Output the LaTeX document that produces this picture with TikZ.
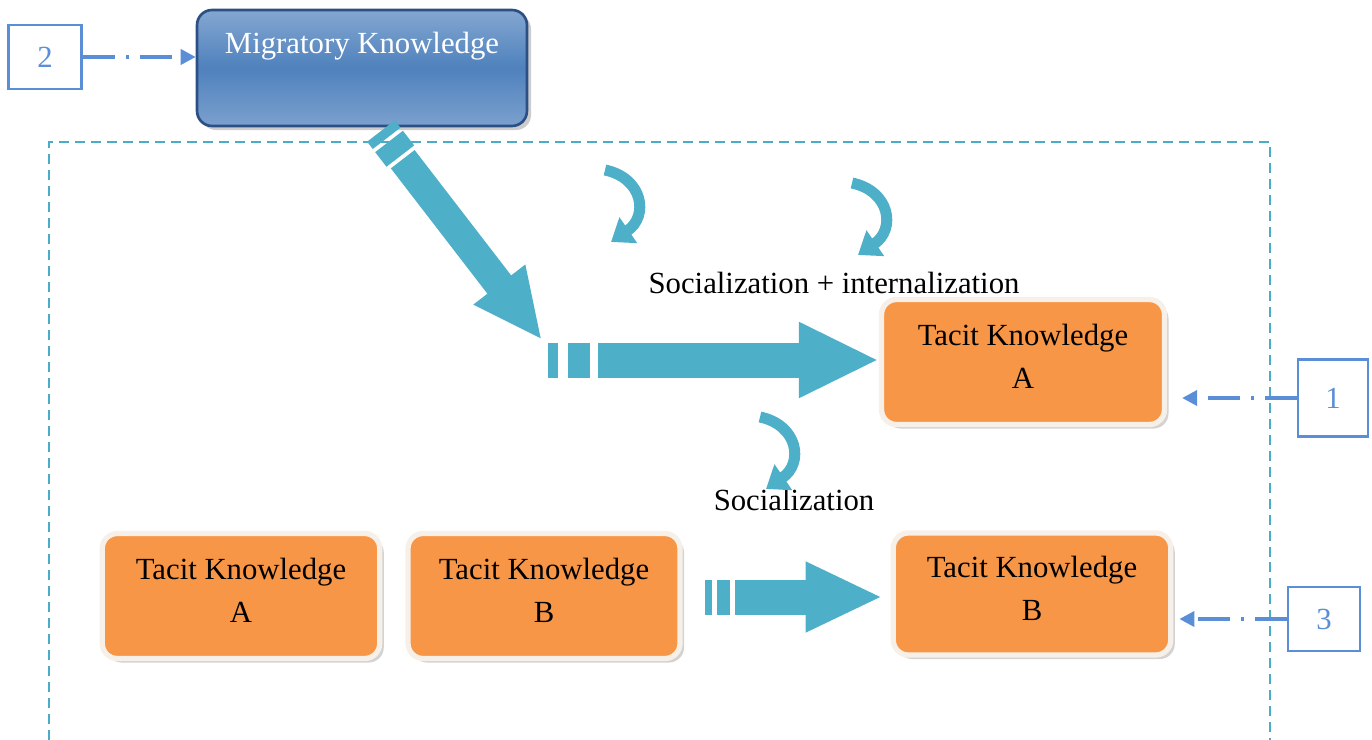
\documentclass[tikz,border=0pt]{standalone}
\usepackage{fontspec}
\setmainfont{Liberation Serif}
\usetikzlibrary{arrows.meta,shadows,calc}

\definecolor{tacitorange}{HTML}{F79646}
\definecolor{migblue}{HTML}{4F81BD}
\definecolor{migedge}{HTML}{2C4F85}
\definecolor{arrowteal}{HTML}{4DAFC8}
\definecolor{frameteal}{HTML}{4BACC6}
\definecolor{numblue}{HTML}{5A8ED6}
\newcommand\diagfont{\fontsize{17.5}{24.5}\selectfont}

\tikzset{
  pics/curl/.style={code={
    \draw[curlarrow] (0,0) .. controls (38,8) and (44,46) .. (6,72);
  }}
}

\begin{document}
\begin{tikzpicture}[x=0.02cm,y=-0.02cm,
    tacit/.style={rounded corners=0.3cm, fill=tacitorange, draw=white!88!brown,
      line width=3pt, drop shadow={opacity=0.35}, minimum width=5.55cm,
      minimum height=2.5cm,
      label={[font=\diagfont, align=center, yshift=0.12cm]center:#1}},
    numbox/.style={draw=numblue, line width=1.2pt, fill=white, text=numblue,
      minimum width=1.44cm, minimum height=1.32cm, font=\diagfont},
    dashdot/.style={draw=numblue, line width=2pt,
      dash pattern=on 0.64cm off 0.22cm on 0.06cm off 0.22cm,
      -{Triangle[width=0.3cm,length=0.3cm]}},
    bigarrow/.style={draw=arrowteal, line width=0.7cm,
      -{Triangle[width=1.4cm,length=1.6cm]}},
    stripe/.style={draw=arrowteal, line width=0.7cm},
    curlarrow/.style={draw=arrowteal, line width=0.22cm,
      -{Triangle[width=0.6cm,length=0.42cm]}},
    lbl/.style={font=\diagfont}]

  \useasboundingbox (0,0) rectangle (1372,740);

  % frame
  \draw[frameteal, line width=1.2pt, dash pattern=on 0.2cm off 0.12cm]
    (49,740) -- (49,142) -- (1270,142) -- (1270,740);

  % migratory knowledge
  \node[rounded corners=0.3cm, draw=migedge, line width=1.5pt,
    top color=migblue!70!white, bottom color=migblue!75!white, middle color=migblue,
    drop shadow={opacity=0.4}, minimum width=6.6cm, minimum height=2.32cm]
    (mig) at (362,68) {};
  \node[lbl, text=white] (migtext) at (362,46) {Migratory Knowledge};

  % tacit knowledge boxes
  \node[tacit={Tacit Knowledge\\A}, minimum width=5.66cm] (tacA) at (1023,362) {};
  \node[tacit={Tacit Knowledge\\A}] (lowA) at (241,596) {};
  \node[tacit={Tacit Knowledge\\B}, minimum width=5.44cm] (lowB) at (544,596) {};
  \node[tacit={Tacit Knowledge\\B}, minimum height=2.44cm] (tacB) at (1032,594) {};

  % number boxes
  \node[numbox, minimum width=1.46cm, minimum height=1.28cm] (n2) at (45,57) {2};
  \node[numbox, minimum width=1.4cm, minimum height=1.54cm] (n1) at (1333,398) {1};
  \node[numbox, minimum height=1.28cm] (n3) at (1324,619) {3};

  \draw[dashdot] (n2) -- (n2 -| mig.west);
  \draw[dashdot, shorten >=0.3cm] (n1) -- (n1 -| tacA.east);
  \draw[dashdot, shorten >=0.12cm] (n3) -- (n3 -| tacB.east);

  % labels
  \node[lbl] (socint) at (834,283) {Socialization + internalization};
  \node[lbl] (soc) at (794,500) {Socialization};

  % diagonal arrow
  \coordinate (d0) at (381,131);
  \coordinate (dtip) at (542,340);
  \draw[stripe] (d0) -- ($(d0)!0.035!(dtip)$);
  \draw[stripe] ($(d0)!0.05!(dtip)$) -- ($(d0)!0.12!(dtip)$);
  \draw[bigarrow, line width=0.6cm, -{Triangle[width=1.2cm,length=1.4cm]}]
    ($(d0)!0.135!(dtip)$) -- (dtip);

  % arrow to tacit A
  \coordinate (h0) at (548,360);
  \draw[stripe] (h0) -- ++(10,0);
  \draw[stripe] ($(h0)+(20,0)$) -- ++(22,0);
  \draw[bigarrow] ($(h0)+(50,0)$) -- (h0 -| tacA.west);

  % arrow to tacit B
  \coordinate (b0) at (705,597);
  \draw[stripe] (b0) -- ++(7,0);
  \draw[stripe] ($(b0)+(12,0)$) -- ++(13,0);
  \draw[bigarrow, -{Triangle[width=1.3cm,length=1.54cm]}]
    ($(b0)+(30,0)$) -- ($(b0 -| tacB.west)+(-8,0)$);

  % curled arrows
  \pic at (605,170) {curl};
  \pic at (852,183) {curl};
  \pic at (760,417) {curl};
\end{tikzpicture}
\end{document}
